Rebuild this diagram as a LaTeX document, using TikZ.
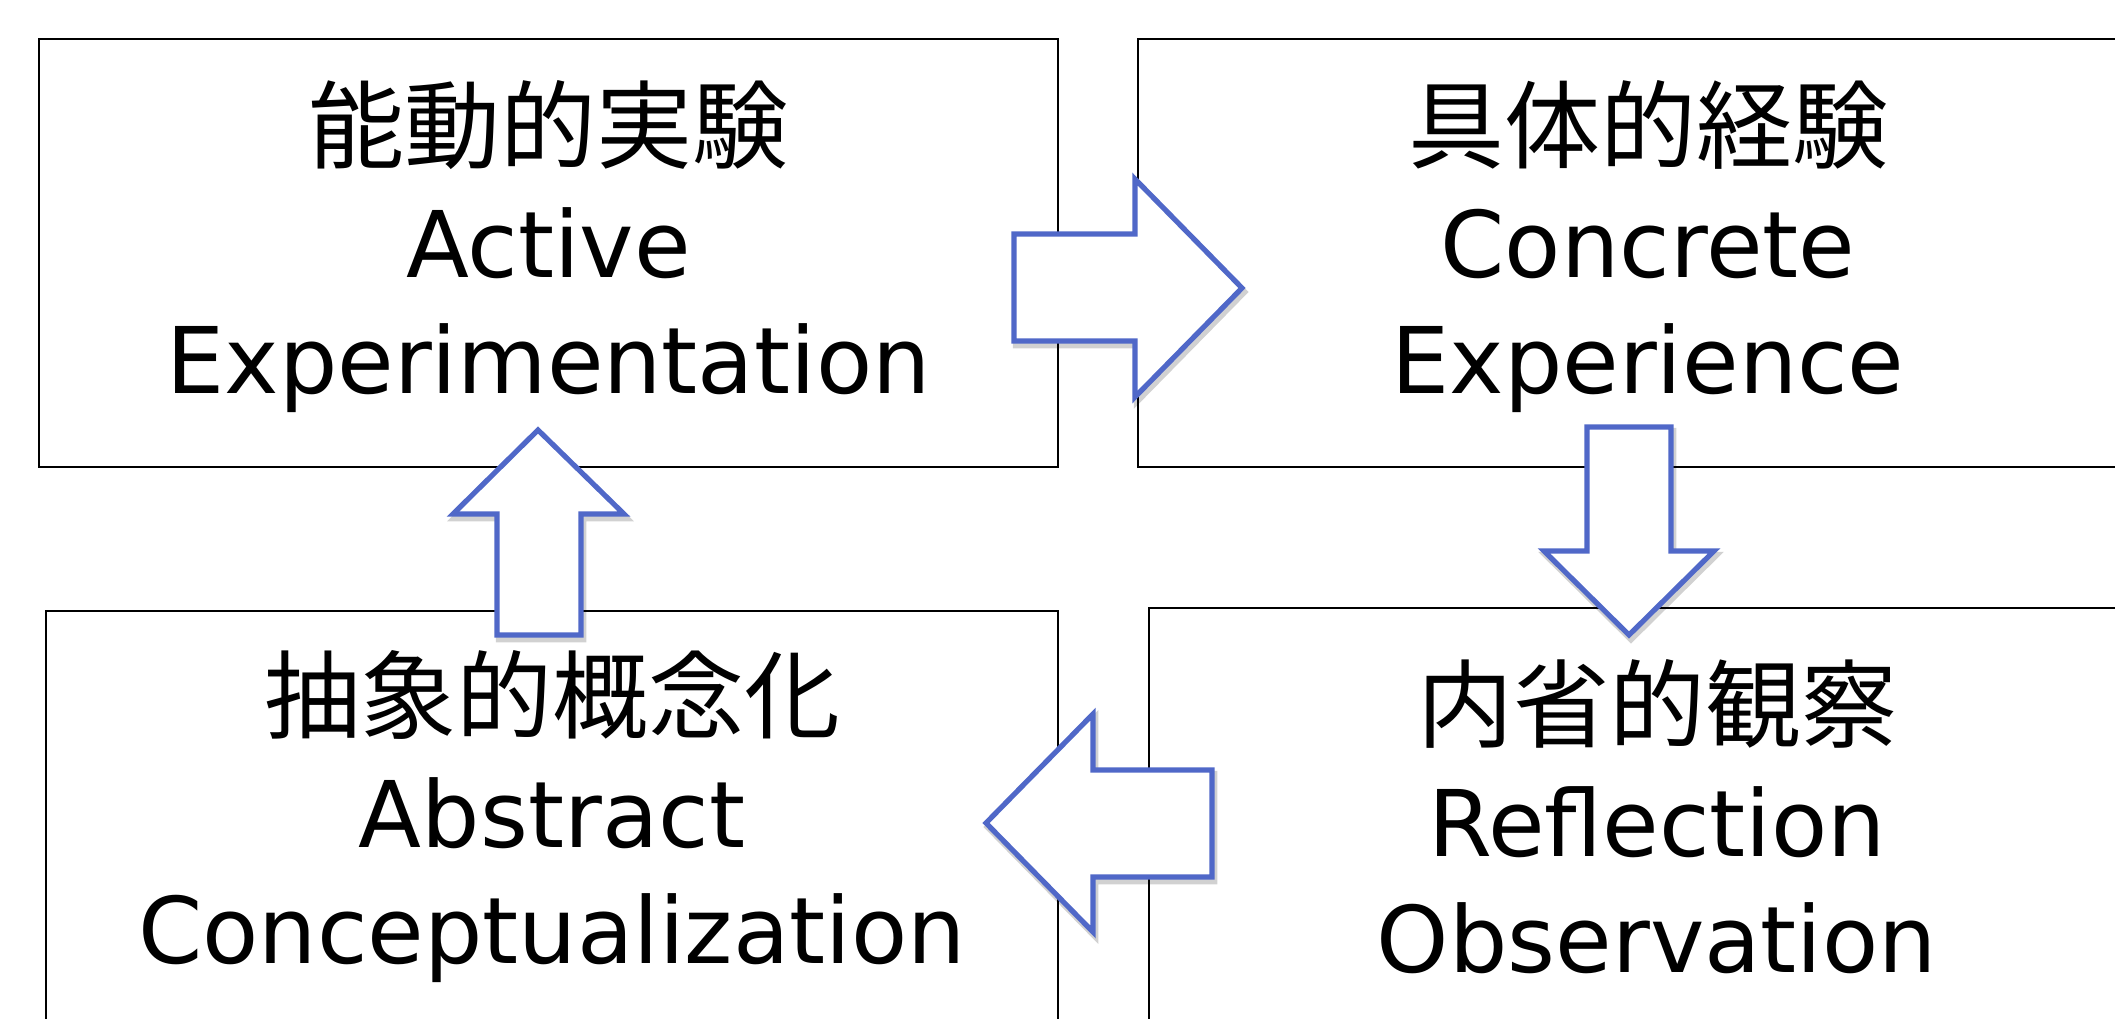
\documentclass[tikz,border=0pt]{standalone}
\usepackage{fontspec}
\setmainfont{DejaVu Sans}
\newfontfamily\cjk{Noto Sans CJK JP}
\definecolor{arrowblue}{RGB}{80,104,200}
\begin{document}
\begin{tikzpicture}[x=1pt,y=-1pt,
  box/.style={draw=black,line width=1.6pt},
  lbl/.style={align=center,font=\fontsize{92}{116}\selectfont,inner sep=0pt},
  blockarrow/.style={draw=arrowblue,fill=white,line width=5.2pt,line join=miter},
  arrowshadow/.style={draw=black,opacity=0.18,line width=6.5pt,line join=miter}]
\useasboundingbox (0,0) rectangle (2115,1018);
% boxes
\draw[box] (39,39) rectangle (1058,467);
\draw[box] (1138,39) rectangle (2160,467);
\draw[box] (46,611) rectangle (1058,1040);
\draw[box] (1149,608) rectangle (2168,1040);
% labels
\node[lbl] (ae) at (548.5,247) {{\cjk\fontsize{96}{116}\selectfont 能動的実験}\\Active\\Experimentation};
\node[lbl] (ce) at (1648,247) {{\cjk\fontsize{96}{116}\selectfont 具体的経験}\\Concrete\\Experience};
\node[lbl] (ac) at (552,817) {{\cjk\fontsize{96}{116}\selectfont 抽象的概念化}\\Abstract\\Conceptualization};
\node[lbl] (ro) at (1657,817) {{\cjk\fontsize{96}{116}\selectfont 内省的観察}\\Reflection\\Observation};
% right arrow (AE -> CE)
\draw[arrowshadow,shift={(2,4)}] (1014,234) -- (1135,234) -- (1135,179) -- (1242,288) -- (1135,397) -- (1135,341) -- (1014,341) -- cycle;
\draw[blockarrow] (1014,234) -- (1135,234) -- (1135,179) -- (1242,288) -- (1135,397) -- (1135,341) -- (1014,341) -- cycle;
% down arrow (CE -> RO)
\draw[arrowshadow,shift={(2,4)}] (1587,427) -- (1671,427) -- (1671,551) -- (1714,551) -- (1629,635) -- (1544,551) -- (1587,551) -- cycle;
\draw[blockarrow] (1587,427) -- (1671,427) -- (1671,551) -- (1714,551) -- (1629,635) -- (1544,551) -- (1587,551) -- cycle;
% left arrow (RO -> AC)
\draw[arrowshadow,shift={(2,4)}] (1212,770) -- (1093,770) -- (1093,714) -- (986,823) -- (1093,932) -- (1093,877) -- (1212,877) -- cycle;
\draw[blockarrow] (1212,770) -- (1093,770) -- (1093,714) -- (986,823) -- (1093,932) -- (1093,877) -- (1212,877) -- cycle;
% up arrow (AC -> AE)
\draw[arrowshadow,shift={(2,4)}] (497,635) -- (497,514) -- (453,514) -- (538,430) -- (624,514) -- (581,514) -- (581,635) -- cycle;
\draw[blockarrow] (497,635) -- (497,514) -- (453,514) -- (538,430) -- (624,514) -- (581,514) -- (581,635) -- cycle;
\end{tikzpicture}
\end{document}
